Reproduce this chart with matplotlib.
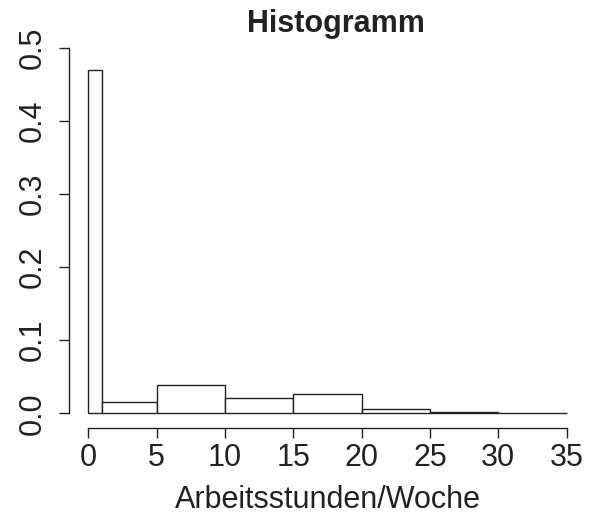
import numpy as np
import matplotlib.pyplot as plt

plt.rcParams['font.family'] = ['Liberation Sans', 'DejaVu Sans']

# Klassengrenzen und Dichten der Arbeitsstunden pro Woche
breaks = [0, 1, 5, 10, 15, 20, 25, 30, 35]
density = [0.47, 0.016, 0.039, 0.021, 0.027, 0.006, 0.0014, 0.0]
x_ticks = [0, 5, 10, 15, 20, 25, 30, 35]
y_ticks = [0.0, 0.1, 0.2, 0.3, 0.4, 0.5]

fs = 22

fig = plt.figure(figsize=(6.09, 5.19), dpi=100)
ax = fig.add_axes([0.145, 0.2037, 0.7855, 0.7044])

widths = np.diff(breaks)
ax.bar(breaks[:-1], density, width=widths, align='edge',
       facecolor='white', edgecolor='#222222', linewidth=1.0, clip_on=False)

ax.set_xlim(0, 35)
ax.set_ylim(0, 0.5)

# Achsen im R-Stil: abgesetzt, nur links und unten
for side in ['top', 'right']:
    ax.spines[side].set_visible(False)
ax.spines['left'].set_position(('outward', 13.7))
ax.spines['bottom'].set_position(('outward', 10.8))
ax.spines['left'].set_bounds(0, 0.5)
ax.spines['bottom'].set_bounds(0, 35)
for side in ['left', 'bottom']:
    ax.spines[side].set_linewidth(1.0)
    ax.spines[side].set_color('#222222')

ax.set_xticks(x_ticks)
ax.set_xticklabels([str(t) for t in x_ticks])
ax.set_yticks(y_ticks)
ax.set_yticklabels([f'{t:.1f}' for t in y_ticks])
ax.tick_params(axis='both', direction='out', length=7.5, width=1.0,
               color='#222222', labelsize=fs, labelcolor='#222222')
ax.tick_params(axis='x', pad=3)
ax.tick_params(axis='y', pad=8, labelrotation=90)
for lab in ax.get_yticklabels():
    lab.set_va('center')

ax.set_xlabel('Arbeitsstunden/Woche', fontsize=fs, color='#222222', labelpad=9)
fig.text(336 / 609, 1 - 31.7 / 519, 'Histogramm', ha='center', va='baseline',
         fontsize=fs, fontweight='bold', color='#222222')

fig.savefig('out.png', dpi=100, facecolor='white')
